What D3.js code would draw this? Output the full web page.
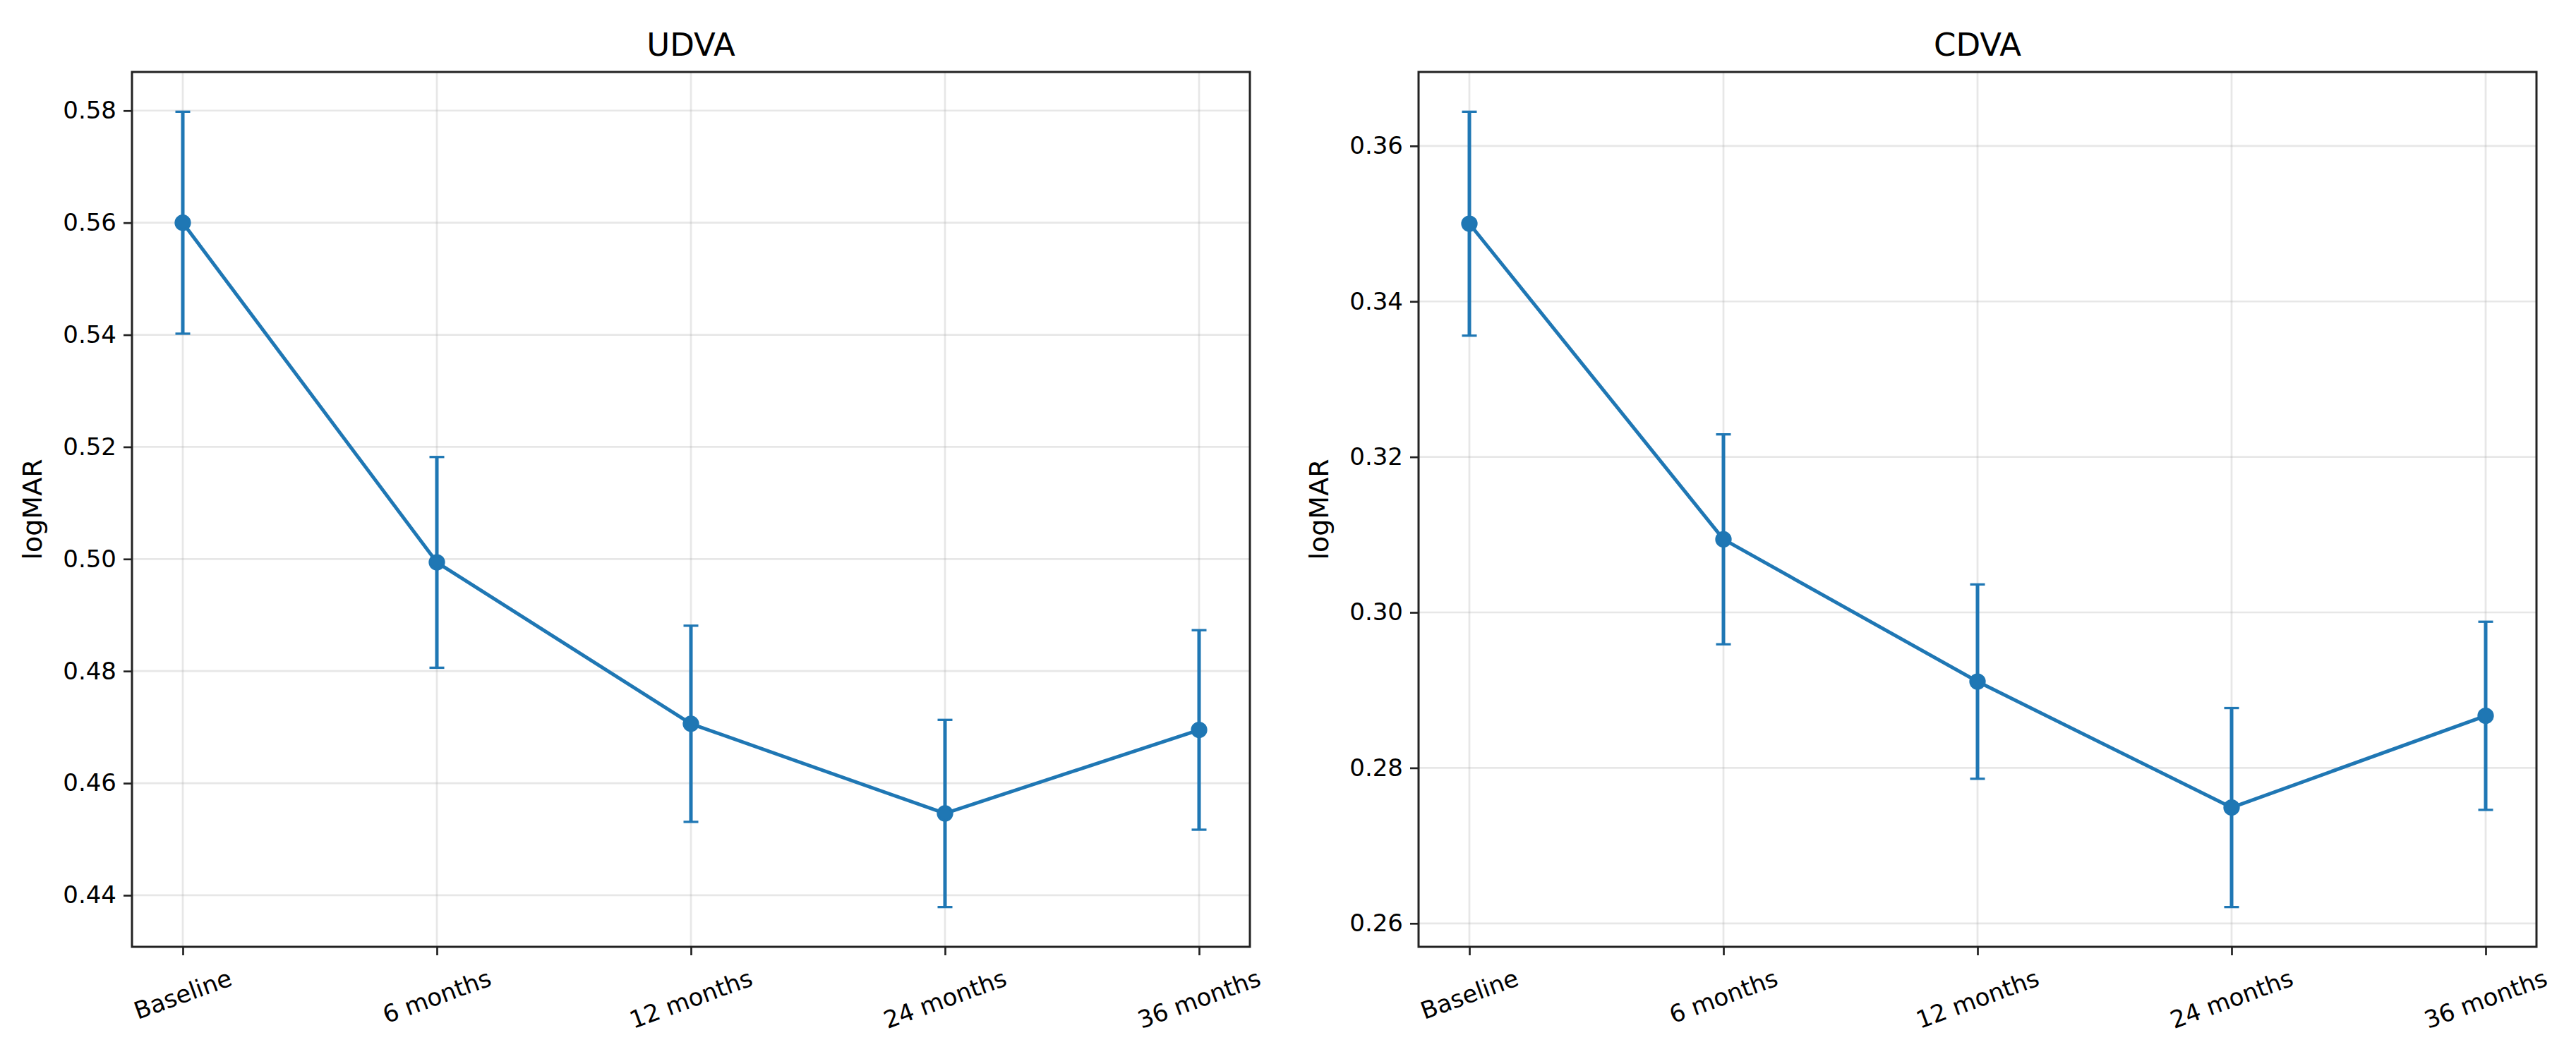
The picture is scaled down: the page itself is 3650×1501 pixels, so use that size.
<!DOCTYPE html>
<html>
<head>
<meta charset="utf-8">
<script src="https://cdn.jsdelivr.net/npm/d3@7"></script>
<style>
  body { margin: 0; background: #fff; }
  text { font-family: "DejaVu Sans", sans-serif; fill: #000; }
</style>
</head>
<body>
<svg id="chart"></svg>
<script>
// values
var timepoints = ["Baseline", "6 months", "12 months", "24 months", "36 months"];

var udvaMean = [0.5600, 0.4994, 0.4706, 0.4546, 0.4695];
var udvaErr  = [0.0198, 0.0188, 0.0175, 0.0167, 0.0178];
var udvaTicks = [0.44, 0.46, 0.48, 0.50, 0.52, 0.54, 0.56, 0.58];

var cdvaMean = [0.3500, 0.3094, 0.2911, 0.2749, 0.2867];
var cdvaErr  = [0.0144, 0.0135, 0.0125, 0.0128, 0.0121];
var cdvaTicks = [0.26, 0.28, 0.30, 0.32, 0.34, 0.36];

var W = 3650, H = 1501;
var blue = "#1f77b4";

var svg = d3.select("#chart")
  .attr("width", W)
  .attr("height", H);

svg.append("rect").attr("width", W).attr("height", H).attr("fill", "#fff");

function drawPanel(title, mean, err, ticks, box) {
  var g = svg.append("g");

  // matplotlib style 5% margins around the error bar extent
  var lo = d3.min(mean, (d, i) => d - err[i]);
  var hi = d3.max(mean, (d, i) => d + err[i]);
  var pad = (hi - lo) * 0.05;

  var x = d3.scalePoint()
    .domain(timepoints)
    .range([box.x0, box.x1])
    .padding(0.2);

  var y = d3.scaleLinear()
    .domain([lo - pad, hi + pad])
    .range([box.y1, box.y0]);

  // grid
  g.append("g").selectAll("line.gy")
    .data(ticks)
    .enter().append("line")
    .attr("x1", box.x0).attr("x2", box.x1)
    .attr("y1", d => y(d)).attr("y2", d => y(d))
    .attr("stroke", "#b0b0b0").attr("stroke-opacity", 0.3)
    .attr("stroke-width", 2.7);

  g.append("g").selectAll("line.gx")
    .data(timepoints)
    .enter().append("line")
    .attr("x1", d => x(d)).attr("x2", d => x(d))
    .attr("y1", box.y0).attr("y2", box.y1)
    .attr("stroke", "#b0b0b0").attr("stroke-opacity", 0.3)
    .attr("stroke-width", 2.7);

  // y axis
  var ya = g.append("g")
    .attr("transform", "translate(" + box.x0 + ",0)")
    .call(d3.axisLeft(y)
      .tickValues(ticks)
      .tickFormat(d3.format(".2f"))
      .tickSize(12)
      .tickSizeOuter(0)
      .tickPadding(10));
  ya.select(".domain").remove();
  ya.selectAll("line").attr("stroke", "#222").attr("stroke-width", 2.7);
  ya.selectAll("text")
    .style("font-family", "DejaVu Sans")
    .style("font-size", "34px")
    .attr("fill", "#000");

  // x axis ticks
  var xa = g.append("g")
    .attr("transform", "translate(0," + box.y1 + ")")
    .call(d3.axisBottom(x).tickSize(12).tickSizeOuter(0).tickFormat(""));
  xa.select(".domain").remove();
  xa.selectAll("line").attr("stroke", "#222").attr("stroke-width", 2.7);

  // rotated x tick labels, bbox top just below the tick
  var fs = 34;
  g.append("g").selectAll("text")
    .data(timepoints)
    .enter().append("text")
    .style("font-size", fs + "px")
    .attr("text-anchor", "middle")
    .attr("dy", "0.35em")
    .text(d => d)
    .attr("transform", function(d) {
      var w = this.getComputedTextLength();
      var a = 20 * Math.PI / 180;
      var bh = w * Math.sin(a) + fs * 1.17 * Math.cos(a);
      return "translate(" + x(d) + "," + (box.y1 + 24 + bh / 2) + ") rotate(-20)";
    });

  // error bars
  var eb = g.append("g");
  eb.selectAll("line.bar")
    .data(mean)
    .enter().append("line")
    .attr("x1", (d, i) => x(timepoints[i]))
    .attr("x2", (d, i) => x(timepoints[i]))
    .attr("y1", (d, i) => y(d - err[i]))
    .attr("y2", (d, i) => y(d + err[i]))
    .attr("stroke", blue).attr("stroke-width", 5);

  [-1, 1].forEach(function(s) {
    eb.selectAll("line.cap" + s)
      .data(mean)
      .enter().append("line")
      .attr("x1", (d, i) => x(timepoints[i]) - 10.5)
      .attr("x2", (d, i) => x(timepoints[i]) + 10.5)
      .attr("y1", (d, i) => y(d + s * err[i]))
      .attr("y2", (d, i) => y(d + s * err[i]))
      .attr("stroke", blue).attr("stroke-width", 3.3);
  });

  // line + markers
  var line = d3.line()
    .x((d, i) => x(timepoints[i]))
    .y(d => y(d));

  g.append("path")
    .datum(mean)
    .attr("d", line)
    .attr("fill", "none")
    .attr("stroke", blue)
    .attr("stroke-width", 5)
    .attr("stroke-linejoin", "round");

  g.selectAll("circle")
    .data(mean)
    .enter().append("circle")
    .attr("cx", (d, i) => x(timepoints[i]))
    .attr("cy", d => y(d))
    .attr("r", 10)
    .attr("fill", blue)
    .attr("stroke", blue)
    .attr("stroke-width", 3.3);

  // frame
  g.append("rect")
    .attr("x", box.x0).attr("y", box.y0)
    .attr("width", box.x1 - box.x0)
    .attr("height", box.y1 - box.y0)
    .attr("fill", "none")
    .attr("stroke", "#222")
    .attr("stroke-width", 3);

  // title
  g.append("text")
    .attr("x", (box.x0 + box.x1) / 2)
    .attr("y", box.y0 - 23)
    .attr("text-anchor", "middle")
    .style("font-size", "45px")
    .text(title);

  // y label
  g.append("text")
    .attr("transform", "translate(" + (box.x0 - 141) + "," + ((box.y0 + box.y1) / 2) + ") rotate(-90)")
    .attr("text-anchor", "middle")
    .attr("dy", "0.35em")
    .style("font-size", "38px")
    .text("logMAR");
}

drawPanel("UDVA", udvaMean, udvaErr, udvaTicks, { x0: 187, x1: 1771, y0: 102, y1: 1342 });
drawPanel("CDVA", cdvaMean, cdvaErr, cdvaTicks, { x0: 2010, x1: 3594, y0: 102, y1: 1342 });
</script>
</body>
</html>
